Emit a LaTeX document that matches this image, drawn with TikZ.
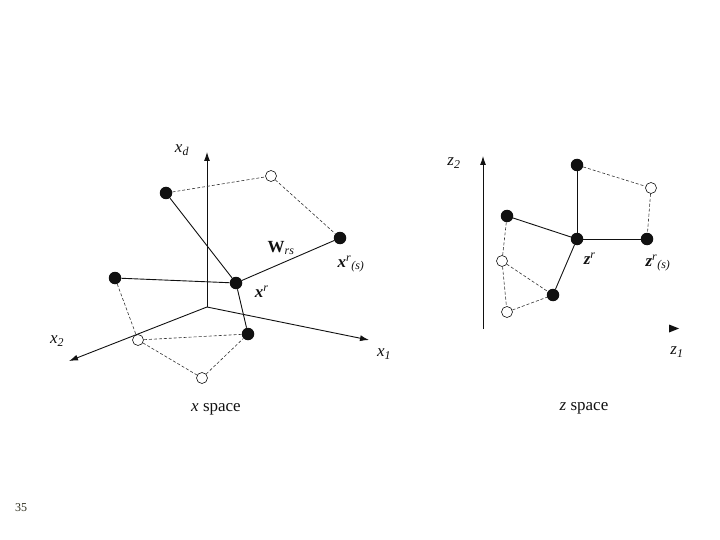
\documentclass[tikz,border=0pt]{standalone}
\usepackage{fontspec}
\setmainfont{Liberation Serif}
\usetikzlibrary{positioning, arrows.meta}
\definecolor{tinta}{HTML}{111111}
\definecolor{trazo}{HTML}{333333}
\definecolor{pagina}{HTML}{2E2E1E}
\newcommand{\vecr}[2]{\textbf{\textit{#1}}\textsuperscript{\textit{r}}\textsubscript{#2}}

\begin{document}
\begin{tikzpicture}[x=1pt, y=-1pt, font=\fontsize{17}{19}\selectfont,
			lleno/.style={circle, fill=tinta, inner sep=0pt, minimum size=12.5pt},
			vacio/.style={circle, draw=tinta, fill=white, line width=0.6pt, inner sep=0pt, minimum size=11pt},
			eje/.style={line width=0.9pt, draw=tinta, -{Latex[length=9pt, width=6pt]}},
			enlace/.style={line width=0.9pt, draw=tinta},
			traza/.style={line width=0.6pt, draw=trazo, densely dashed},
			rotulo/.style={inner sep=1pt, text=tinta}]
			\useasboundingbox (0,0) rectangle (720,540);
			% espacio x
			\coordinate (ox) at (207,307);
			\coordinate (xd) at (207,152);
			\coordinate (xuno) at (369,340);
			\coordinate (xdos) at (69,361);
			\draw[eje] (ox) -- (xd);
			\draw[eje] (ox) -- (xuno);
			\draw[eje] (ox) -- (xdos);
			\node[rotulo] (lxd) at (182,150) {\textit{x}\textsubscript{\textit{d}}};
			\node[rotulo] (lxuno) at (384,354) {\textit{x}\textsubscript{\textit{1}}};
			\node[rotulo] (lxdos) at (57,341) {\textit{x}\textsubscript{\textit{2}}};
			\node[lleno] (xa) at (166,193) {};
			\node[vacio] (xb) at (271,176) {};
			\node[lleno] (xs) at (340,238) {};
			\node[lleno] (xr) at (236,283) {};
			\node[lleno] (xe) at (115,278) {};
			\node[lleno] (xf) at (248,334) {};
			\node[vacio] (xg) at (138,340) {};
			\node[vacio] (xh) at (202,378) {};
			\draw[traza] (xa) -- (xb);
			\draw[traza] (xb) -- (xs);
			\draw[enlace] (xa) -- (xr);
			\draw[enlace] (xr) -- (xs);
			\draw[enlace] (xe) -- (xr);
			\draw[enlace] (xr) -- (xf);
			\draw[traza] (xe) -- (xg);
			\draw[traza] (xg) -- (xf);
			\draw[traza] (xg) -- (xh);
			\draw[traza] (xh) -- (xf);
			\node[rotulo] (lw) at (281,248) {\textbf{W}\textsubscript{\textit{rs}}};
			\node[rotulo] (lxs) at (351,264) {\vecr{x}{\textit{(s)}}};
			\node[rotulo] (lxr) at (262,293) {\vecr{x}{}};
			\node[rotulo] (cx) at (216,409) {\textit{x} space};
			% espacio z
			\coordinate (oz) at (483,329);
			\coordinate (zdos) at (483,156);
			\draw[eje] (oz) -- (zdos);
			\fill[tinta] (669,324.5) -- (679,328.5) -- (669,332.5) -- cycle;
			\node[rotulo] (lzdos) at (454,163) {\textit{z}\textsubscript{\textit{2}}};
			\node[rotulo] (lzuno) at (677,352) {\textit{z}\textsubscript{\textit{1}}};
			\node[lleno] (zp) at (577,165) {};
			\node[vacio] (zq) at (651,188) {};
			\node[lleno] (zs) at (647,239) {};
			\node[lleno] (zr) at (577,239) {};
			\node[lleno] (zt) at (507,216) {};
			\node[vacio] (zu) at (502,261) {};
			\node[lleno] (zv) at (553,295) {};
			\node[vacio] (zw) at (507,312) {};
			\draw[traza] (zp) -- (zq);
			\draw[traza] (zq) -- (zs);
			\draw[enlace] (zp) -- (zr);
			\draw[enlace] (zr) -- (zs);
			\draw[enlace] (zt) -- (zr);
			\draw[enlace] (zr) -- (zv);
			\draw[traza] (zt) -- (zu);
			\draw[traza] (zu) -- (zv);
			\draw[traza] (zu) -- (zw);
			\draw[traza] (zw) -- (zv);
			\node[rotulo] (lzr) at (590,260) {\vecr{z}{}};
			\node[rotulo] (lzs) at (658,263) {\vecr{z}{\textit{(s)}}};
			\node[rotulo] (cz) at (584,408) {\textit{z} space};
			\node[rotulo, text=pagina, font=\fontsize{12}{14}\selectfont] (pag) at (21,508) {35};
		\end{tikzpicture}
\end{document}
